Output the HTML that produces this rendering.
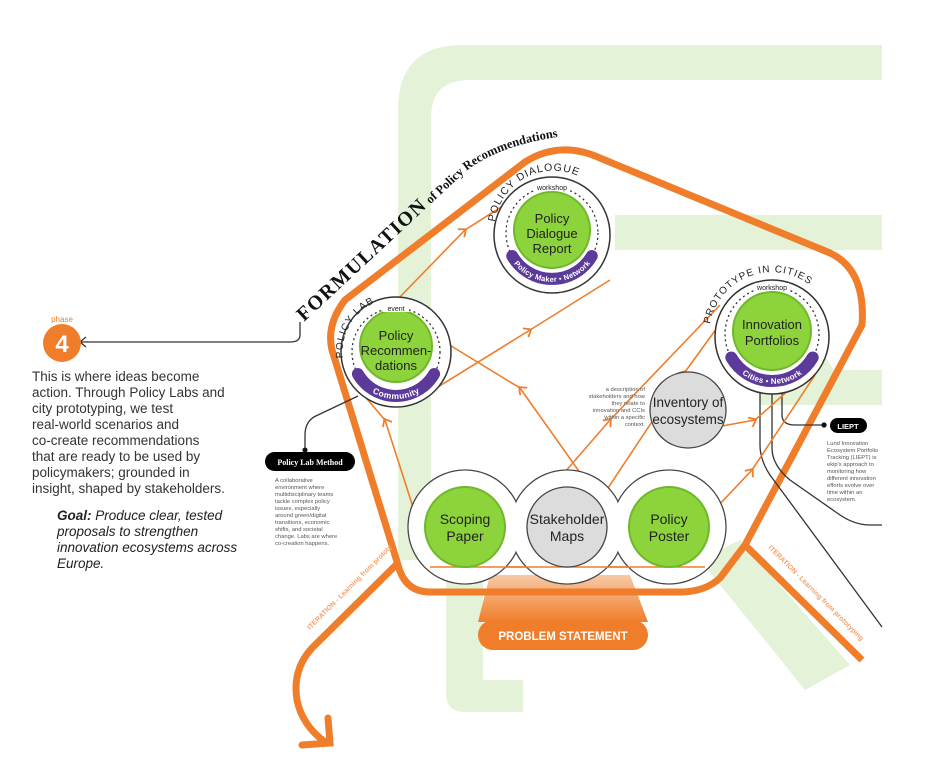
<!DOCTYPE html>
<html><head><meta charset="utf-8"><style>
html,body{margin:0;padding:0;background:#fff;}
svg{display:block;font-family:"Liberation Sans",sans-serif;}
</style></head><body>
<svg width="936" height="779" viewBox="0 0 936 779" xmlns="http://www.w3.org/2000/svg">
<defs>
<marker id="ah" viewBox="0 0 10 10" refX="5" refY="5" markerWidth="8" markerHeight="8" orient="auto"><path d="M1,1 L6,5 L1,9" fill="none" stroke="#f07d2a" stroke-width="1.4"/></marker>
<marker id="bk" viewBox="0 0 10 10" refX="8" refY="5" markerWidth="5" markerHeight="5" orient="auto"><circle cx="5" cy="5" r="4" fill="#111"/></marker>
<linearGradient id="tg" x1="0" y1="0" x2="0" y2="1"><stop offset="0" stop-color="#f7c9a6"/><stop offset="1" stop-color="#f07d2a"/></linearGradient>
<path id="formp" d="M304,322 L465,172 Q505,140 585,134"/>
<path id="plab" d="M343,358 A54,54 0 0 1 396,298"/>
<path id="pdial" d="M495,222 A59,59 0 0 1 612,222"/>
<path id="proto" d="M710,324 A63,63 0 0 1 834,324"/>
<path id="itl" d="M310,630 L392,548"/>
<path id="itr" d="M768,548 L862,642"/>
<path id="b1" d="M357.9,374 A44,44 0 0 0 434.1,374"/>
<path id="b2" d="M512.2,256 A46,46 0 0 0 591.8,256"/>
<path id="b3" d="M731.3,357.5 A47,47 0 0 0 812.7,357.5"/>
</defs>
<!-- green background -->
<g fill="#e4f2d8">
<path d="M398,560 L398,110 Q398,45 463,45 L882,45 L882,80 L470,80 Q431,80 431,118 L431,560 Z"/>
<rect x="615" y="215" width="267" height="35"/>
<rect x="760" y="370" width="122" height="35"/>
<path d="M446,580 L483,580 L483,680 L523,680 L523,712 L465,712 Q446,712 446,693 Z"/>
<path d="M700,560 L740,540 L850,665 L805,690 Z"/>
<path d="M790,355 L815,340 L840,380 L815,395 Z"/>
</g>
<!-- problem statement -->
<path d="M490,575 L630,575 L648,622 L478,622 Z" fill="url(#tg)"/>
<rect x="478" y="620" width="170" height="30" rx="15" fill="#f07d2a"/>
<text x="563" y="640" font-size="11.5" font-weight="bold" fill="#fff" text-anchor="middle">PROBLEM STATEMENT</text>
<!-- pentagon -->
<path d="M398,565 L332,350 Q326,325 345,300 L525,162 Q560,140 600,158 L830,253 Q866,270 862,325 L745,545 L720,578 Q705,592 680,592 L430,592 Q405,592 398,565 Z" fill="none" stroke="#f07d2a" stroke-width="7"/>
<!-- iteration arrows -->
<path d="M398,563 L312,648 Q292,670 297,700 Q302,725 325,742" fill="none" stroke="#f07d2a" stroke-width="7"/>
<path d="M328,718 L330,743 L302,745" fill="none" stroke="#f07d2a" stroke-width="7" stroke-linecap="round"/>
<path d="M745,545 L862,660" fill="none" stroke="#f07d2a" stroke-width="7"/>
<text font-size="7" font-weight="bold" fill="#f5a06a"><textPath href="#itl">ITERATION - Learning from prototyping</textPath></text>
<text font-size="7" font-weight="bold" fill="#f5a06a"><textPath href="#itr">ITERATION - Learning from prototyping</textPath></text>
<!-- black lines -->
<g fill="none" stroke="#333" stroke-width="1.3">
<path d="M760,388 L760,445 Q760,460 770,475 L882,627"/>
<path d="M772,388 L772,448 Q772,465 790,480 L840,515 Q855,525 870,525 L882,525"/>
<path d="M782,388 L782,415 Q782,425 795,425 L826,425" marker-end="url(#bk)"/>
<path d="M358,396 L318,415 Q305,420 305,435 L305,452" marker-end="url(#bk)"/>
<path d="M300,322 L300,335 Q300,342 290,342 L80,342"/>
<path d="M86,337 L80,342 L86,347"/>
</g>
<!-- orange connectors -->
<g fill="none" stroke="#f07d2a" stroke-width="1.6">
<path d="M395,302 L465,230 L520,195" marker-mid="url(#ah)"/>
<path d="M425,395 L530,330 L610,280" marker-mid="url(#ah)"/>
<path d="M430,560 L385,420 L355,385" marker-mid="url(#ah)"/>
<path d="M610,515 L520,388 L425,330" marker-mid="url(#ah)"/>
<path d="M545,495 L610,420 L720,305" marker-mid="url(#ah)"/>
<path d="M600,500 L685,372 L730,310" marker-mid="url(#ah)"/>
<path d="M700,430 L755,420 L800,380" marker-mid="url(#ah)"/>
<path d="M700,525 L752,470 L815,375" marker-mid="url(#ah)"/>
<path d="M430,567 L705,567"/>
</g>
<!-- bottom circles -->
<g fill="#fff" stroke="#444" stroke-width="1.3">
<circle cx="465" cy="527" r="57"/><circle cx="567" cy="527" r="57"/><circle cx="669" cy="527" r="57"/>
</g>
<g fill="#fff">
<circle cx="465" cy="527" r="56.2"/><circle cx="567" cy="527" r="56.2"/><circle cx="669" cy="527" r="56.2"/>
</g>
<path d="M430,567 L705,567" fill="none" stroke="#f07d2a" stroke-width="1.6"/>
<circle cx="465" cy="527" r="40" fill="#8dd33c" stroke="#6fb82a" stroke-width="2"/>
<circle cx="567" cy="527" r="40" fill="#dcdcdc" stroke="#444" stroke-width="1.3"/>
<circle cx="669" cy="527" r="40" fill="#8dd33c" stroke="#6fb82a" stroke-width="2"/>
<g font-size="14" fill="#222" text-anchor="middle">
<text x="465" y="524">Scoping</text><text x="465" y="541">Paper</text>
<text x="567" y="524">Stakeholder</text><text x="567" y="541">Maps</text>
<text x="669" y="524">Policy</text><text x="669" y="541">Poster</text>
</g>
<!-- inventory -->
<circle cx="688" cy="410" r="38" fill="#dcdcdc" stroke="#444" stroke-width="1.3"/>
<text x="688" y="407" font-size="13.5" fill="#222" text-anchor="middle">Inventory of</text>
<text x="688" y="424" font-size="13.5" fill="#222" text-anchor="middle">ecosystems</text>
<!-- node circles -->
<g>
<circle cx="396" cy="352" r="55" fill="#fff" stroke="#333" stroke-width="1.5"/>
<circle cx="396" cy="352" r="44" fill="none" stroke="#333" stroke-width="1.3" stroke-dasharray="2 3"/>
<circle cx="396" cy="346" r="36" fill="#8dd33c" stroke="#6fb82a" stroke-width="2"/>
<use href="#b1" fill="none" stroke="#5b3a9a" stroke-width="12" stroke-linecap="round"/>
<text x="396" y="340" font-size="13" fill="#222" text-anchor="middle">Policy</text>
<text x="396" y="355" font-size="13" fill="#222" text-anchor="middle">Recommen-</text>
<text x="396" y="370" font-size="13" fill="#222" text-anchor="middle">dations</text>
<text font-size="8.5" font-weight="bold" fill="#fff" text-anchor="middle" dy="3"><textPath href="#b1" startOffset="50%">Community</textPath></text>
<rect x="383" y="304" width="26" height="8" fill="#fff"/>
<text x="396" y="311" font-size="7" fill="#222" text-anchor="middle">event</text>

<circle cx="552" cy="235" r="58" fill="#fff" stroke="#333" stroke-width="1.5"/>
<circle cx="552" cy="233" r="46" fill="none" stroke="#333" stroke-width="1.3" stroke-dasharray="2 3"/>
<circle cx="552" cy="230" r="38" fill="#8dd33c" stroke="#6fb82a" stroke-width="2"/>
<use href="#b2" fill="none" stroke="#5b3a9a" stroke-width="12" stroke-linecap="round"/>
<text x="552" y="223" font-size="13" fill="#222" text-anchor="middle">Policy</text>
<text x="552" y="238" font-size="13" fill="#222" text-anchor="middle">Dialogue</text>
<text x="552" y="253" font-size="13" fill="#222" text-anchor="middle">Report</text>
<text font-size="7.5" font-weight="bold" fill="#fff" text-anchor="middle" dy="3"><textPath href="#b2" startOffset="50%">Policy Maker • Network</textPath></text>
<rect x="535" y="183" width="34" height="8" fill="#fff"/>
<text x="552" y="190" font-size="7" fill="#222" text-anchor="middle">workshop</text>

<circle cx="772" cy="337" r="57" fill="#fff" stroke="#333" stroke-width="1.5"/>
<circle cx="772" cy="334" r="47" fill="none" stroke="#333" stroke-width="1.3" stroke-dasharray="2 3"/>
<circle cx="772" cy="331" r="39" fill="#8dd33c" stroke="#6fb82a" stroke-width="2"/>
<use href="#b3" fill="none" stroke="#5b3a9a" stroke-width="12" stroke-linecap="round"/>
<text x="772" y="329" font-size="13" fill="#222" text-anchor="middle">Innovation</text>
<text x="772" y="345" font-size="13" fill="#222" text-anchor="middle">Portfolios</text>
<text font-size="8" font-weight="bold" fill="#fff" text-anchor="middle" dy="3"><textPath href="#b3" startOffset="50%">Cities • Network</textPath></text>
<rect x="755" y="283" width="34" height="8" fill="#fff"/>
<text x="772" y="290" font-size="7" fill="#222" text-anchor="middle">workshop</text>
</g>
<!-- arc labels -->
<text font-size="10" fill="#222" letter-spacing="1"><textPath href="#plab">POLICY LAB</textPath></text>
<text font-size="10.5" fill="#222" letter-spacing="1"><textPath href="#pdial">POLICY DIALOGUE</textPath></text>
<text font-size="10" fill="#222" letter-spacing="1"><textPath href="#proto">PROTOTYPE IN CITIES</textPath></text>
<text fill="#111" font-family="Liberation Serif,serif" font-weight="bold"><textPath href="#formp"><tspan font-size="20" letter-spacing="1.5">FORMULATION</tspan><tspan font-size="12.5"> of Policy Recommendations</tspan></textPath></text>
<!-- phase -->
<circle cx="62" cy="343" r="19" fill="#f07d2a"/>
<text x="62" y="352" font-size="24" font-weight="bold" fill="#fff" text-anchor="middle">4</text>
<text x="62" y="322" font-size="8" fill="#f07d2a" text-anchor="middle">phase</text>
<g font-size="13.5" fill="#333">
<text x="32" y="381">This is where ideas become</text>
<text x="32" y="397">action. Through Policy Labs and</text>
<text x="32" y="413">city prototyping, we test</text>
<text x="32" y="429">real-world scenarios and</text>
<text x="32" y="445">co-create recommendations</text>
<text x="32" y="461">that are ready to be used by</text>
<text x="32" y="477">policymakers; grounded in</text>
<text x="32" y="493">insight, shaped by stakeholders.</text>
</g>
<g font-size="13.5" fill="#222" font-style="italic">
<text x="57" y="520"><tspan font-weight="bold">Goal:</tspan> Produce clear, tested</text>
<text x="57" y="536">proposals to strengthen</text>
<text x="57" y="552">innovation ecosystems across</text>
<text x="57" y="568">Europe.</text>
</g>
<!-- policy lab method -->
<rect x="265" y="452" width="90" height="19" rx="9.5" fill="#000"/>
<text x="310" y="465" font-size="8" font-weight="bold" fill="#fff" text-anchor="middle" font-family="Liberation Serif,serif">Policy Lab Method</text>
<g font-size="5.8" fill="#555">
<text x="275" y="482">A collaborative</text><text x="275" y="489">environment where</text><text x="275" y="496">multidisciplinary teams</text><text x="275" y="503">tackle complex policy</text><text x="275" y="510">issues, especially</text><text x="275" y="517">around green/digital</text><text x="275" y="524">transitions, economic</text><text x="275" y="531">shifts, and societal</text><text x="275" y="538">change. Labs are where</text><text x="275" y="545">co-creation happens.</text>
</g>
<!-- LIEPT -->
<rect x="830" y="418" width="37" height="15" rx="7.5" fill="#000"/>
<text x="848" y="429" font-size="7.5" font-weight="bold" fill="#fff" text-anchor="middle">LIEPT</text>
<g font-size="5.8" fill="#555">
<text x="827" y="445">Lund Innovation</text><text x="827" y="452">Ecosystem Portfolio</text><text x="827" y="459">Tracking (LIEPT) is</text><text x="827" y="466">ekip's approach to</text><text x="827" y="473">monitoring how</text><text x="827" y="480">different innovation</text><text x="827" y="487">efforts evolve over</text><text x="827" y="494">time within an</text><text x="827" y="501">ecosystem.</text>
</g>
<g font-size="5.8" fill="#555" text-anchor="end">
<text x="645" y="391">a description of</text><text x="645" y="398">stakeholders and how</text><text x="645" y="405">they relate to</text><text x="645" y="412">innovation and CCIs</text><text x="645" y="419">within a specific</text><text x="645" y="426">context.</text>
</g>
<rect x="883" y="0" width="53" height="779" fill="#fff"/>
</svg>
</body></html>
